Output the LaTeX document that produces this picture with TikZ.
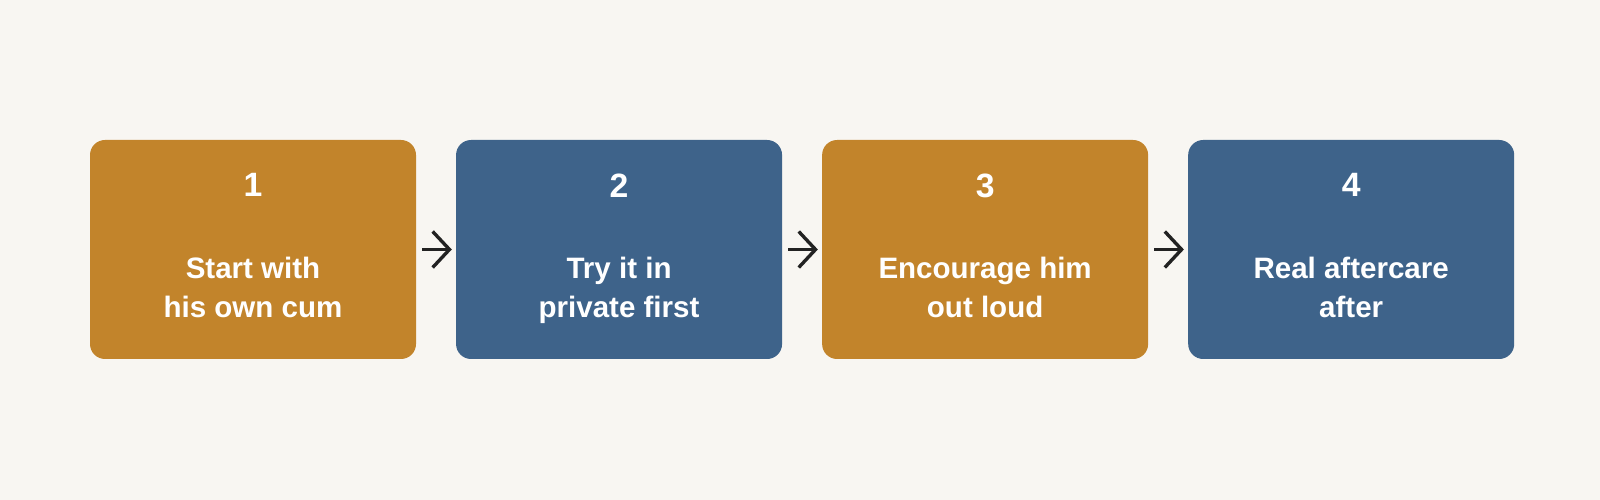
\documentclass[tikz,border=0pt]{standalone}
\usepackage{fontspec}
\setmainfont{Liberation Sans}
\usetikzlibrary{positioning,arrows.meta}

\definecolor{bgcol}{RGB}{248,246,242}
\definecolor{ochre}{RGB}{194,132,43}
\definecolor{slate}{RGB}{62,99,138}
\definecolor{ink}{RGB}{34,34,34}

\newcommand{\stepnum}[1]{{\fontsize{24}{28}\selectfont #1}}
\newcommand{\lastdepth}{\rule[-5.4pt]{0pt}{1pt}}

\begin{document}
\begin{tikzpicture}[
    stepbox/.style={rectangle, rounded corners=0.375cm, minimum width=8.15cm,
      minimum height=5.475cm, inner sep=0pt, text=white, align=center,
      font=\bfseries\fontsize{21}{27.7}\selectfont},
    flow/.style={draw=ink, line width=2.4pt, -{Straight Barb[length=0.42cm, width=0.9cm]},
      shorten <=0.15cm, shorten >=0.1cm}
  ]
    \fill[bgcol] (0,0) rectangle (40,12.5);

    \node[stepbox, fill=ochre] (s1) at (6.325, 6.2625) {\stepnum{1}\\[30.5pt]Start with\\his own cum\lastdepth};
    \node[stepbox, fill=slate, right=0.9875cm of s1] (s2) {\stepnum{2}\\[30.5pt]Try it in\\private first\lastdepth};
    \node[stepbox, fill=ochre, right=0.9875cm of s2] (s3) {\stepnum{3}\\[30.5pt]Encourage him\\out loud\lastdepth};
    \node[stepbox, fill=slate, right=0.9875cm of s3] (s4) {\stepnum{4}\\[30.5pt]Real aftercare\\after\lastdepth};

    \draw[flow] (s1) -- (s2);
    \draw[flow] (s2) -- (s3);
    \draw[flow] (s3) -- (s4);
  \end{tikzpicture}
\end{document}
